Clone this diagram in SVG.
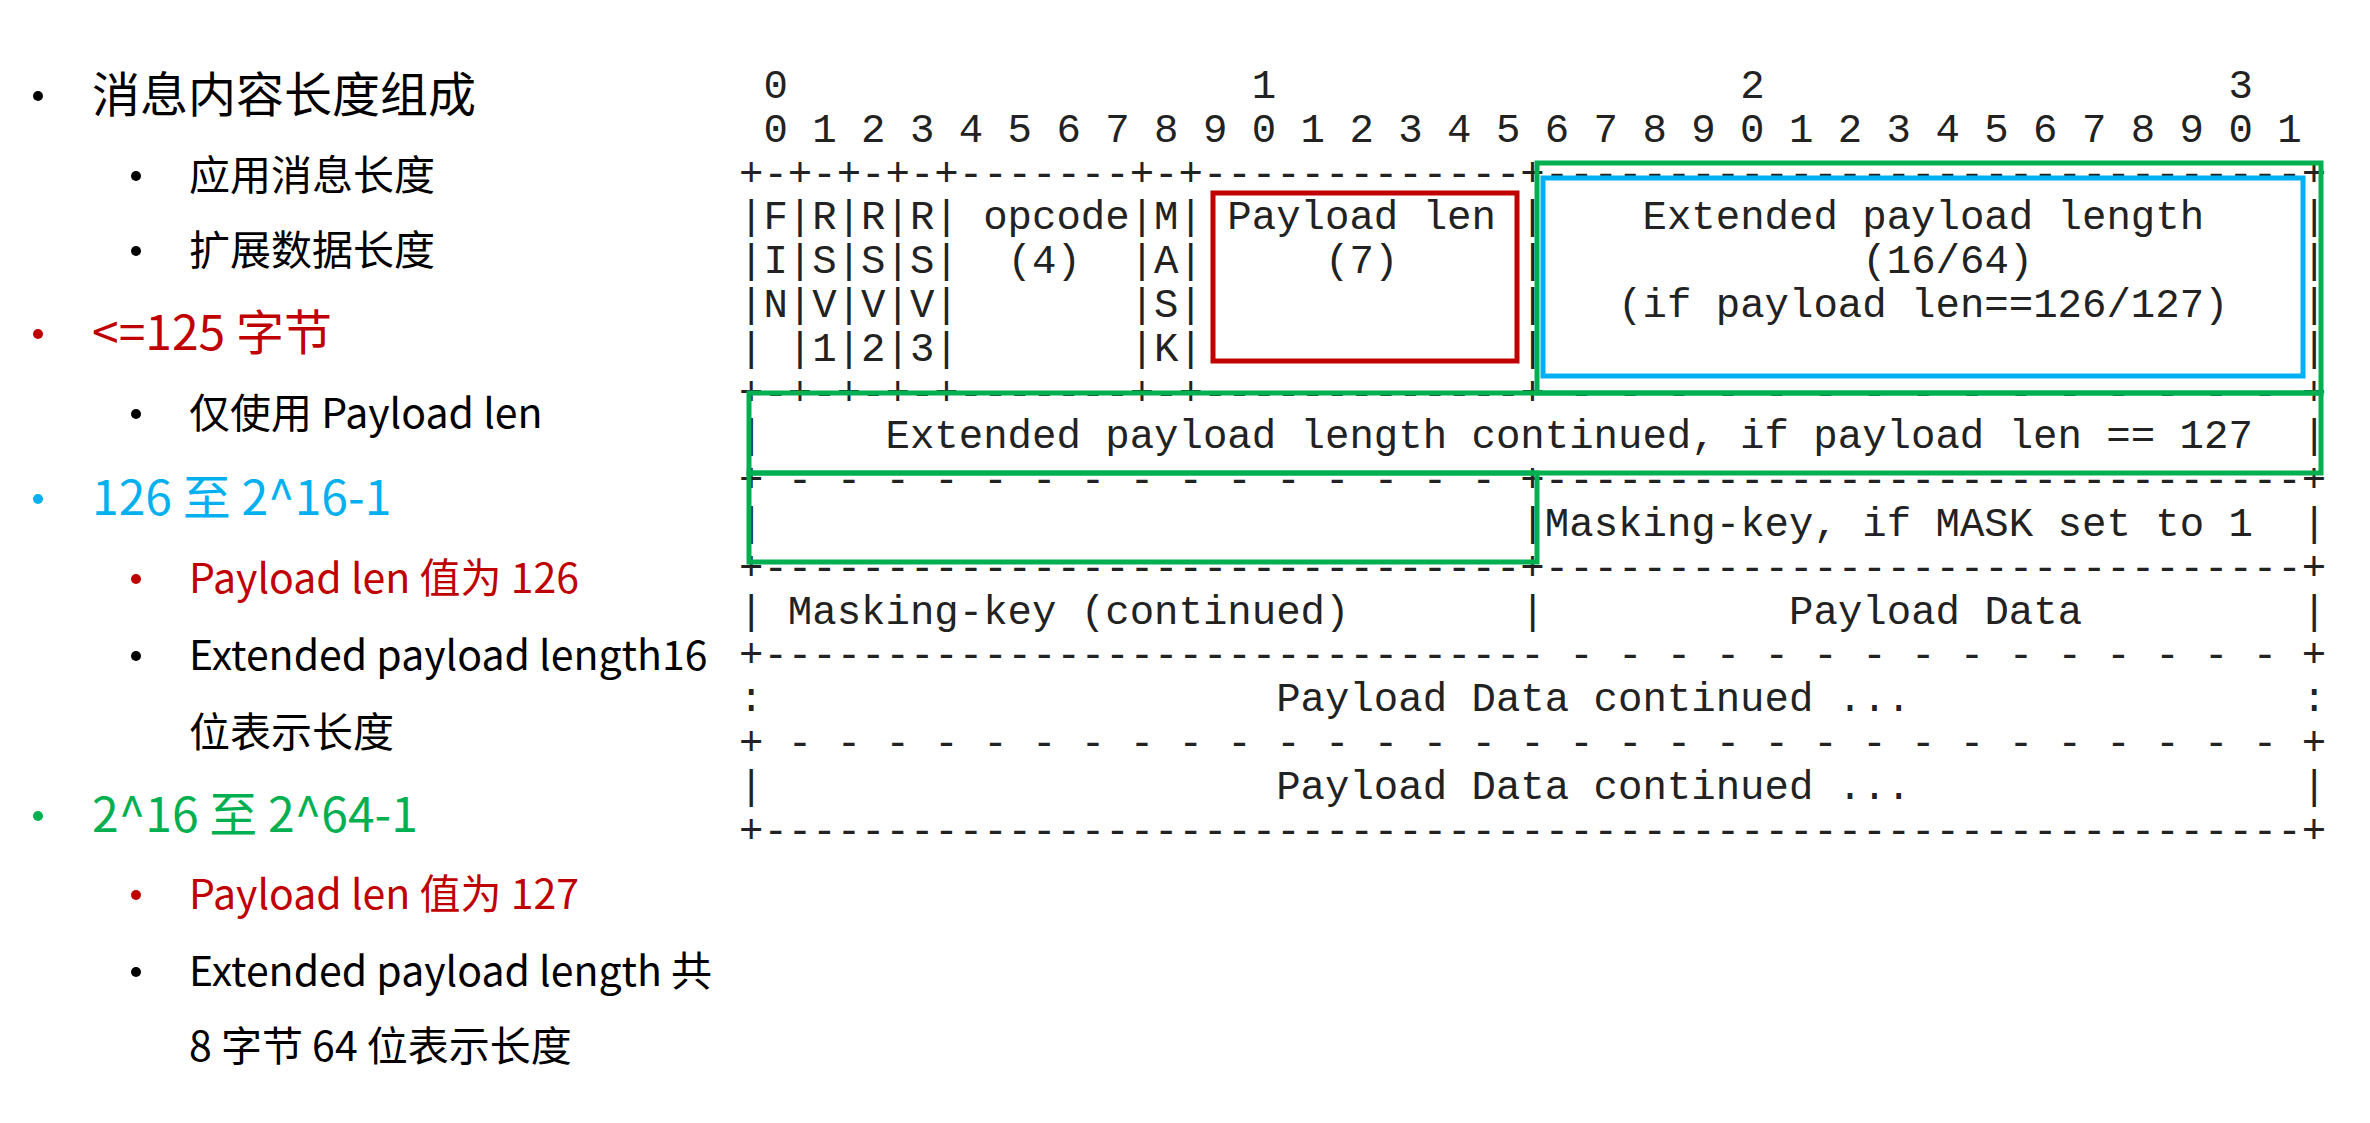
<svg xmlns="http://www.w3.org/2000/svg" width="2370" height="1123" viewBox="0 0 2370 1123">
<style>
.m{font-family:"Liberation Mono",monospace;font-size:40.7px;fill:#222}
.l{font-family:"Noto Sans CJK SC",sans-serif;font-size:48px;fill:#000}
.s{font-family:"Noto Sans CJK SC",sans-serif;font-size:41px;fill:#000}
.r{fill:#C00000}.b{fill:#00B0F0}.g{fill:#00B050}
.box{fill:none;stroke-width:5}
</style>
<rect width="2370" height="1123" fill="#fff"/>
<g id="bullets">
<g id="l1"><circle cx="38" cy="96" r="5"/><text class="l" x="92" y="112">消息内容长度组成</text></g>
<g id="l2"><circle cx="136" cy="176" r="5"/><text class="s" x="189" y="190">应用消息长度</text></g>
<g id="l3"><circle cx="136" cy="251" r="5"/><text class="s" x="189" y="265">扩展数据长度</text></g>
<g id="l4"><circle cx="38" cy="334" r="5" class="r"/><text class="l r" x="92" y="350">&lt;=125 字节</text></g>
<g id="l5"><circle cx="136" cy="414" r="5"/><text class="s" x="189" y="428">仅使用 Payload len</text></g>
<g id="l6"><circle cx="38" cy="499" r="5" class="b"/><text class="l b" x="92" y="515">126 至 2^16-1</text></g>
<g id="l7"><circle cx="136" cy="579" r="5" class="r"/><text class="s r" x="189" y="593">Payload len 值为 126</text></g>
<g id="l8"><circle cx="136" cy="656" r="5"/><text class="s" x="189" y="670">Extended payload length16</text><text class="s" x="189" y="747">位表示长度</text></g>
<g id="l9"><circle cx="38" cy="816" r="5" class="g"/><text class="l g" x="92" y="832">2^16 至 2^64-1</text></g>
<g id="l10"><circle cx="136" cy="895" r="5" class="r"/><text class="s r" x="189" y="909">Payload len 值为 127</text></g>
<g id="l11"><circle cx="136" cy="972" r="5"/><text class="s" x="189" y="986">Extended payload length 共</text><text class="s" x="189" y="1061">8 字节 64 位表示长度</text></g>
</g>
<g id="frame" class="m">
<text y="98"><tspan x="763.4">0</tspan><tspan x="1251.8">1</tspan><tspan x="1740.2">2</tspan><tspan x="2228.6">3</tspan></text>
<text x="763.4" y="142">0 1 2 3 4 5 6 7 8 9 0 1 2 3 4 5 6 7 8 9 0 1 2 3 4 5 6 7 8 9 0 1</text>
<text x="739" y="186">+-+-+-+-+-------+-+-------------+-------------------------------+</text>
<text y="229"><tspan x="739">|F|R|R|R| opcode|M| Payload len |</tspan><tspan x="1642.5">Extended payload length</tspan><tspan x="2301.9">|</tspan></text>
<text y="273"><tspan x="739">|I|S|S|S|</tspan><tspan x="1007.6">(4)</tspan><tspan x="1129.7">|A|</tspan><tspan x="1325.1">(7)</tspan><tspan x="1520.4">|</tspan><tspan x="1862.3">(16/64)</tspan><tspan x="2301.9">|</tspan></text>
<text y="317"><tspan x="739">|N|V|V|V|</tspan><tspan x="1129.7">|S|</tspan><tspan x="1520.4">|</tspan><tspan x="1618.1">(if payload len==126/127)</tspan><tspan x="2301.9">|</tspan></text>
<text y="361"><tspan x="739">| |1|2|3|</tspan><tspan x="1129.7">|K|</tspan><tspan x="1520.4">|</tspan><tspan x="2301.9">|</tspan></text>
<text x="739" y="405">+-+-+-+-+-------+-+-------------+ - - - - - - - - - - - - - - - +</text>
<text y="448"><tspan x="739">|</tspan><tspan x="885.5">Extended payload length continued, if payload len == 127</tspan><tspan x="2301.9">|</tspan></text>
<text x="739" y="492">+ - - - - - - - - - - - - - - - +-------------------------------+</text>
<text y="536"><tspan x="739">|</tspan><tspan x="1520.4">|Masking-key, if MASK set to 1</tspan><tspan x="2301.9">|</tspan></text>
<text x="739" y="580">+-------------------------------+-------------------------------+</text>
<text y="624"><tspan x="739">| Masking-key (continued)</tspan><tspan x="1520.4">|</tspan><tspan x="1789.1">Payload Data</tspan><tspan x="2301.9">|</tspan></text>
<text x="739" y="667">+-------------------------------- - - - - - - - - - - - - - - - +</text>
<text y="711"><tspan x="739">:</tspan><tspan x="1276.2">Payload Data continued ...</tspan><tspan x="2301.9">:</tspan></text>
<text x="739" y="755">+ - - - - - - - - - - - - - - - - - - - - - - - - - - - - - - - +</text>
<text y="799"><tspan x="739">|</tspan><tspan x="1276.2">Payload Data continued ...</tspan><tspan x="2301.9">|</tspan></text>
<text x="739" y="843">+---------------------------------------------------------------+</text>
</g>
<g id="highlights">
<rect class="box" x="1213" y="193" width="304" height="168" stroke="#C00000"/>
<rect class="box" x="1543" y="178" width="760" height="198" stroke="#00B0F0"/>
<rect class="box" x="1537" y="163" width="784" height="230" stroke="#00B050"/>
<rect class="box" x="749" y="393" width="1572" height="80" stroke="#00B050"/>
<rect class="box" x="749" y="473" width="788" height="89" stroke="#00B050"/>
</g>
</svg>
